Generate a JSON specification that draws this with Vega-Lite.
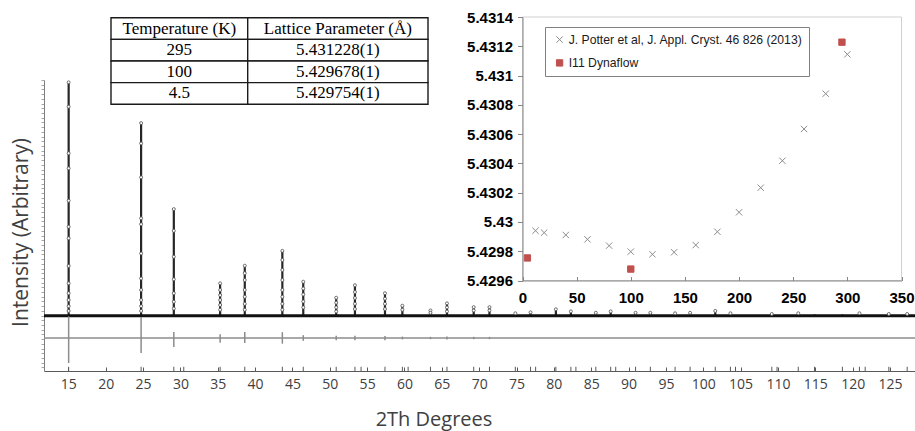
{
  "$schema": "https://vega.github.io/schema/vega-lite/v6.json",
  "width": 871,
  "height": 371,
  "autosize": "none",
  "padding": {"left": 44, "top": 0, "right": 0, "bottom": 60},
  "background": "white",
  "config": {"view": {"stroke": null}},
  "datasets": {
    "peaks": [
      {"tt": 15.04, "h": 990}, {"tt": 24.74, "h": 817}, {"tt": 29.12, "h": 452}, {"tt": 35.32, "h": 137},
      {"tt": 38.62, "h": 212}, {"tt": 43.65, "h": 275}, {"tt": 46.45, "h": 144}, {"tt": 50.86, "h": 76},
      {"tt": 53.37, "h": 129}, {"tt": 57.39, "h": 95}, {"tt": 59.72, "h": 42}, {"tt": 63.48, "h": 22},
      {"tt": 65.69, "h": 52}, {"tt": 69.27, "h": 36}, {"tt": 71.38, "h": 36}, {"tt": 74.84, "h": 10},
      {"tt": 76.88, "h": 14}, {"tt": 80.27, "h": 27}, {"tt": 82.28, "h": 18}, {"tt": 85.62, "h": 12},
      {"tt": 87.61, "h": 18}, {"tt": 90.94, "h": 12}, {"tt": 92.92, "h": 12}, {"tt": 96.23, "h": 10},
      {"tt": 98.24, "h": 12}, {"tt": 101.61, "h": 20}, {"tt": 103.64, "h": 10}, {"tt": 109.18, "h": 7},
      {"tt": 112.72, "h": 10}, {"tt": 114.9, "h": 5}, {"tt": 118.63, "h": 5}, {"tt": 120.91, "h": 10},
      {"tt": 124.85, "h": 7}, {"tt": 127.3, "h": 7}
    ],
    "obs": [
      {"tt": 15.04, "I": 990}, {"tt": 15.04, "I": 887}, {"tt": 15.04, "I": 689}, {"tt": 15.04, "I": 625},
      {"tt": 15.04, "I": 488}, {"tt": 15.04, "I": 377}, {"tt": 15.04, "I": 328}, {"tt": 15.04, "I": 211},
      {"tt": 15.04, "I": 137}, {"tt": 15.04, "I": 95}, {"tt": 15.04, "I": 66}, {"tt": 15.04, "I": 40}, {"tt": 15.04, "I": 20},
      {"tt": 24.74, "I": 817}, {"tt": 24.74, "I": 731}, {"tt": 24.74, "I": 587}, {"tt": 24.74, "I": 413},
      {"tt": 24.74, "I": 388}, {"tt": 24.74, "I": 264}, {"tt": 24.74, "I": 158}, {"tt": 24.74, "I": 109},
      {"tt": 24.74, "I": 66}, {"tt": 24.74, "I": 40}, {"tt": 24.74, "I": 20},
      {"tt": 29.12, "I": 452}, {"tt": 29.12, "I": 360}, {"tt": 29.12, "I": 250}, {"tt": 29.12, "I": 154},
      {"tt": 29.12, "I": 95}, {"tt": 29.12, "I": 59}, {"tt": 29.12, "I": 30},
      {"tt": 35.32, "I": 137}, {"tt": 35.32, "I": 109}, {"tt": 35.32, "I": 87}, {"tt": 35.32, "I": 66}, {"tt": 35.32, "I": 45}, {"tt": 35.32, "I": 25},
      {"tt": 38.62, "I": 212}, {"tt": 38.62, "I": 180}, {"tt": 38.62, "I": 151}, {"tt": 38.62, "I": 109}, {"tt": 38.62, "I": 80}, {"tt": 38.62, "I": 50}, {"tt": 38.62, "I": 25},
      {"tt": 43.65, "I": 275}, {"tt": 43.65, "I": 236}, {"tt": 43.65, "I": 194}, {"tt": 43.65, "I": 151}, {"tt": 43.65, "I": 109}, {"tt": 43.65, "I": 80}, {"tt": 43.65, "I": 50}, {"tt": 43.65, "I": 25},
      {"tt": 46.45, "I": 144}, {"tt": 46.45, "I": 115}, {"tt": 46.45, "I": 90}, {"tt": 46.45, "I": 60}, {"tt": 46.45, "I": 35},
      {"tt": 50.86, "I": 76}, {"tt": 50.86, "I": 55}, {"tt": 50.86, "I": 35}, {"tt": 50.86, "I": 18},
      {"tt": 53.37, "I": 129}, {"tt": 53.37, "I": 100}, {"tt": 53.37, "I": 75}, {"tt": 53.37, "I": 50}, {"tt": 53.37, "I": 28},
      {"tt": 57.39, "I": 95}, {"tt": 57.39, "I": 72}, {"tt": 57.39, "I": 50}, {"tt": 57.39, "I": 28},
      {"tt": 59.72, "I": 42}, {"tt": 59.72, "I": 25}, {"tt": 63.48, "I": 22}, {"tt": 63.48, "I": 12},
      {"tt": 65.69, "I": 52}, {"tt": 65.69, "I": 35}, {"tt": 65.69, "I": 18},
      {"tt": 69.27, "I": 36}, {"tt": 69.27, "I": 22}, {"tt": 71.38, "I": 36}, {"tt": 71.38, "I": 22},
      {"tt": 74.84, "I": 10}, {"tt": 76.88, "I": 14}, {"tt": 80.27, "I": 27}, {"tt": 82.28, "I": 18},
      {"tt": 85.62, "I": 12}, {"tt": 87.61, "I": 18}, {"tt": 90.94, "I": 12}, {"tt": 92.92, "I": 12},
      {"tt": 96.23, "I": 10}, {"tt": 98.24, "I": 12}, {"tt": 101.61, "I": 20}, {"tt": 103.64, "I": 10},
      {"tt": 109.18, "I": 7}, {"tt": 112.72, "I": 10}, {"tt": 120.91, "I": 10}, {"tt": 124.85, "I": 7}, {"tt": 127.3, "I": 7}
    ],
    "diffspikes": [
      {"tt": 15.04, "lo": -201, "hi": -3}, {"tt": 24.74, "lo": -159, "hi": -6}, {"tt": 29.12, "lo": -133, "hi": -70},
      {"tt": 35.32, "lo": -115, "hi": -79}, {"tt": 38.62, "lo": -116, "hi": -70}, {"tt": 43.65, "lo": -119, "hi": -70},
      {"tt": 46.45, "lo": -107, "hi": -83}, {"tt": 50.86, "lo": -105, "hi": -85}, {"tt": 53.37, "lo": -105, "hi": -85},
      {"tt": 57.39, "lo": -104, "hi": -86}, {"tt": 59.72, "lo": -101, "hi": -89}, {"tt": 63.48, "lo": -100, "hi": -90},
      {"tt": 65.69, "lo": -101, "hi": -89}, {"tt": 69.27, "lo": -100, "hi": -90}, {"tt": 71.38, "lo": -100, "hi": -90}
    ],
    "bragg": [
      {"tt": 15.04}, {"tt": 24.74}, {"tt": 29.12}, {"tt": 30.45}, {"tt": 35.32}, {"tt": 38.62}, {"tt": 43.65},
      {"tt": 46.45}, {"tt": 50.86}, {"tt": 53.37}, {"tt": 54.19}, {"tt": 57.39}, {"tt": 59.72}, {"tt": 60.49},
      {"tt": 63.48}, {"tt": 65.69}, {"tt": 69.27}, {"tt": 71.38}, {"tt": 74.84}, {"tt": 76.88}, {"tt": 77.56},
      {"tt": 80.27}, {"tt": 82.28}, {"tt": 82.95}, {"tt": 85.62}, {"tt": 87.61}, {"tt": 88.28}, {"tt": 90.94},
      {"tt": 92.92}, {"tt": 96.23}, {"tt": 98.24}, {"tt": 101.61}, {"tt": 103.64}, {"tt": 104.32}, {"tt": 109.18},
      {"tt": 109.88}, {"tt": 112.72}, {"tt": 114.9}, {"tt": 118.63}, {"tt": 120.91}, {"tt": 121.68}, {"tt": 124.85}, {"tt": 127.3}
    ],
    "lattice": [
      {"series": "J. Potter et al, J. Appl. Cryst. 46 826 (2013)", "T": 12, "a": 5.42994},
      {"series": "J. Potter et al, J. Appl. Cryst. 46 826 (2013)", "T": 20, "a": 5.429927},
      {"series": "J. Potter et al, J. Appl. Cryst. 46 826 (2013)", "T": 40, "a": 5.429911},
      {"series": "J. Potter et al, J. Appl. Cryst. 46 826 (2013)", "T": 60, "a": 5.429881},
      {"series": "J. Potter et al, J. Appl. Cryst. 46 826 (2013)", "T": 80, "a": 5.429838},
      {"series": "J. Potter et al, J. Appl. Cryst. 46 826 (2013)", "T": 100, "a": 5.429797},
      {"series": "J. Potter et al, J. Appl. Cryst. 46 826 (2013)", "T": 120, "a": 5.429779},
      {"series": "J. Potter et al, J. Appl. Cryst. 46 826 (2013)", "T": 140, "a": 5.429793},
      {"series": "J. Potter et al, J. Appl. Cryst. 46 826 (2013)", "T": 160, "a": 5.429842},
      {"series": "J. Potter et al, J. Appl. Cryst. 46 826 (2013)", "T": 180, "a": 5.429933},
      {"series": "J. Potter et al, J. Appl. Cryst. 46 826 (2013)", "T": 200, "a": 5.430066},
      {"series": "J. Potter et al, J. Appl. Cryst. 46 826 (2013)", "T": 220, "a": 5.430234},
      {"series": "J. Potter et al, J. Appl. Cryst. 46 826 (2013)", "T": 240, "a": 5.430418},
      {"series": "J. Potter et al, J. Appl. Cryst. 46 826 (2013)", "T": 260, "a": 5.430635},
      {"series": "J. Potter et al, J. Appl. Cryst. 46 826 (2013)", "T": 280, "a": 5.430876},
      {"series": "J. Potter et al, J. Appl. Cryst. 46 826 (2013)", "T": 300, "a": 5.431145},
      {"series": "I11 Dynaflow", "T": 4.5, "a": 5.429754},
      {"series": "I11 Dynaflow", "T": 100, "a": 5.429678},
      {"series": "I11 Dynaflow", "T": 295, "a": 5.431228}
    ],
    "table": [
      {"col": "T", "row": 0, "text": "Temperature (K)"},
      {"col": "P", "row": 0, "text": "Lattice Parameter (Å)"},
      {"col": "T", "row": 1, "text": "295"},
      {"col": "P", "row": 1, "text": "5.431228(1)"},
      {"col": "T", "row": 2, "text": "100"},
      {"col": "P", "row": 2, "text": "5.429678(1)"},
      {"col": "T", "row": 3, "text": "4.5"},
      {"col": "P", "row": 3, "text": "5.429754(1)"}
    ]
  },
  "resolve": {
    "scale": {"x": "independent", "y": "independent"},
    "axis": {"x": "independent", "y": "independent"}
  },
  "layer": [
    {
      "data": {"name": "peaks"},
      "mark": {"type": "rule", "color": "#262626", "strokeWidth": 2.2},
      "encoding": {
        "x": {
          "field": "tt", "type": "quantitative",
          "scale": {"domain": [11.74, 128.35], "nice": false, "zero": false},
          "axis": {
            "orient": "bottom", "values": [15, 20, 25, 30, 35, 40, 45, 50, 55, 60, 65, 70, 75, 80, 85, 90, 95, 100, 105, 110, 115, 120, 125],
            "title": "2Th Degrees", "titleFont": "Open Sans", "titleFontSize": 20, "titleFontWeight": "normal",
            "titleColor": "#404040", "titleX": 389.5, "titleY": 54, "titleAlign": "center", "titleBaseline": "alphabetic",
            "labelFont": "Open Sans", "labelFontSize": 14, "labelColor": "#404040", "labelPadding": 10,
            "tickSize": -4, "tickColor": "#595959", "domainColor": "#595959", "grid": false,
            "labelFlush": false, "labelOverlap": false
          }
        },
        "y": {
          "field": "h", "type": "quantitative",
          "scale": {"domain": [-235, 1000], "range": [371, 80], "nice": false, "zero": false},
          "axis": {
            "orient": "left", "tickCount": 61, "labels": false, "tickSize": 3, "tickColor": "#a6a6a6",
            "domainColor": "#7f7f7f", "grid": false,
            "title": "Intensity (Arbitrary)", "titleFont": "Open Sans", "titleFontSize": 21, "titleFontWeight": "normal",
            "titleColor": "#404040", "titleX": -17, "titleY": 232, "titleAngle": 270, "titleAlign": "center", "titleBaseline": "alphabetic"
          }
        },
        "y2": {"datum": 0}
      }
    },
    {
      "data": {"values": [{"curve": "calculated", "I": 0}]},
      "mark": {"type": "rule", "color": "#111111", "strokeWidth": 3},
      "encoding": {"y": {"field": "I", "type": "quantitative", "scale": {"domain": [-235, 1000], "range": [371, 80], "nice": false, "zero": false}, "axis": null}}
    },
    {
      "data": {"values": [{"curve": "difference", "I": -95}]},
      "mark": {"type": "rule", "color": "#8c8c8c", "strokeWidth": 1.5},
      "encoding": {"y": {"field": "I", "type": "quantitative", "scale": {"domain": [-235, 1000], "range": [371, 80], "nice": false, "zero": false}, "axis": null}}
    },
    {
      "data": {"name": "diffspikes"},
      "mark": {"type": "rule", "color": "#8c8c8c", "strokeWidth": 1.5},
      "encoding": {
        "x": {"field": "tt", "type": "quantitative", "scale": {"domain": [11.74, 128.35], "nice": false, "zero": false}, "axis": null},
        "y": {"field": "lo", "type": "quantitative", "scale": {"domain": [-235, 1000], "range": [371, 80], "nice": false, "zero": false}, "axis": null},
        "y2": {"field": "hi"}
      }
    },
    {
      "data": {"name": "bragg"},
      "mark": {"type": "rule", "color": "#595959", "strokeWidth": 1},
      "encoding": {
        "x": {"field": "tt", "type": "quantitative", "scale": {"domain": [11.74, 128.35], "nice": false, "zero": false}, "axis": null},
        "y": {"datum": -235, "type": "quantitative", "scale": {"domain": [-235, 1000], "range": [371, 80], "nice": false, "zero": false}, "axis": null},
        "y2": {"datum": -217}
      }
    },
    {
      "data": {"name": "obs"},
      "mark": {"type": "point", "shape": "circle", "fill": "white", "stroke": "#505050", "strokeWidth": 0.8, "size": 9, "opacity": 1},
      "encoding": {
        "x": {"field": "tt", "type": "quantitative", "scale": {"domain": [11.74, 128.35], "nice": false, "zero": false}, "axis": null},
        "y": {"field": "I", "type": "quantitative", "scale": {"domain": [-235, 1000], "range": [371, 80], "nice": false, "zero": false}, "axis": null}
      }
    },
    {
      "data": {"values": [{"T0": 0, "T1": 350, "a0": 5.4296, "a1": 5.4314}]},
      "mark": {"type": "rect", "fill": "transparent", "stroke": "#d0d0d0", "strokeWidth": 1},
      "encoding": {
        "x": {
          "field": "T0", "type": "quantitative",
          "scale": {"domain": [0, 350], "range": [478.5, 857.5], "nice": false, "zero": false},
          "axis": {
            "orient": "bottom", "offset": -90.5, "values": [0, 50, 100, 150, 200, 250, 300, 350], "title": null,
            "labelFont": "Liberation Sans", "labelFontSize": 15, "labelFontWeight": "bold", "labelColor": "#000000",
            "labelPadding": 14, "tickSize": -4, "tickColor": "#868686", "domainColor": "#868686",
            "grid": false, "labelFlush": false, "labelOverlap": false, "zindex": 1
          }
        },
        "x2": {"field": "T1"},
        "y": {
          "field": "a0", "type": "quantitative",
          "scale": {"domain": [5.4296, 5.4314], "range": [280.5, 17], "nice": false, "zero": false},
          "axis": {
            "orient": "left", "offset": -478.5,
            "values": [5.4296, 5.4298, 5.43, 5.4302, 5.4304, 5.4306, 5.4308, 5.431, 5.4312, 5.4314],
            "format": ".4~f", "title": null,
            "labelFont": "Liberation Sans", "labelFontSize": 15, "labelFontWeight": "bold", "labelColor": "#000000",
            "labelPadding": 5, "tickSize": 5, "tickColor": "#868686", "domainColor": "#868686",
            "grid": false, "labelFlush": false, "labelOverlap": false, "zindex": 1
          }
        },
        "y2": {"field": "a1"}
      }
    },
    {
      "data": {"name": "lattice"},
      "mark": {"type": "point", "filled": true, "strokeWidth": 1, "size": 40, "opacity": 1},
      "encoding": {
        "x": {"field": "T", "type": "quantitative", "scale": {"domain": [0, 350], "range": [478.5, 857.5], "nice": false, "zero": false}, "axis": null},
        "y": {"field": "a", "type": "quantitative", "scale": {"domain": [5.4296, 5.4314], "range": [280.5, 17], "nice": false, "zero": false}, "axis": null},
        "color": {
          "field": "series", "type": "nominal",
          "scale": {"domain": ["J. Potter et al, J. Appl. Cryst. 46 826 (2013)", "I11 Dynaflow"], "range": ["#8c8c8c", "#C0504D"]},
          "legend": {
            "title": null, "orient": "none", "legendX": 501, "legendY": 27, "strokeColor": "#808080", "fillColor": "white",
            "padding": 6.5, "labelFont": "Liberation Sans", "labelFontSize": 12.2, "labelColor": "#1a1a1a",
            "labelLimit": 400, "symbolSize": 40, "symbolStrokeWidth": 1, "rowPadding": 10.3, "labelOffset": 3, "symbolOffset": 2
          }
        },
        "stroke": {
          "field": "series", "type": "nominal",
          "scale": {"domain": ["J. Potter et al, J. Appl. Cryst. 46 826 (2013)", "I11 Dynaflow"], "range": ["#8c8c8c", "#C0504D"]},
          "legend": {
            "title": null, "orient": "none", "legendX": 501, "legendY": 27, "strokeColor": "#808080", "fillColor": "white",
            "padding": 6.5, "labelFont": "Liberation Sans", "labelFontSize": 12.2, "labelColor": "#1a1a1a",
            "labelLimit": 400, "symbolSize": 40, "symbolStrokeWidth": 1, "rowPadding": 10.3, "labelOffset": 3, "symbolOffset": 2
          }
        },
        "shape": {
          "field": "series", "type": "nominal",
          "scale": {"domain": ["J. Potter et al, J. Appl. Cryst. 46 826 (2013)", "I11 Dynaflow"], "range": ["M-1,-1L1,1M-1,1L1,-1", "square"]},
          "legend": {
            "title": null, "orient": "none", "legendX": 501, "legendY": 27, "strokeColor": "#808080", "fillColor": "white",
            "padding": 6.5, "labelFont": "Liberation Sans", "labelFontSize": 12.2, "labelColor": "#1a1a1a",
            "labelLimit": 400, "symbolSize": 40, "symbolStrokeWidth": 1, "rowPadding": 10.3, "labelOffset": 3, "symbolOffset": 2
          }
        }
      }
    },
    {
      "data": {"name": "table"},
      "transform": [{"filter": "datum.col == 'T'"}],
      "mark": {"type": "rect", "fill": "white", "stroke": "#1a1a1a", "strokeWidth": 1.4},
      "encoding": {
        "x": {"field": "col", "type": "nominal", "scale": {"type": "band", "domain": ["T"], "range": [67, 203.7], "paddingInner": 0, "paddingOuter": 0}, "axis": null},
        "y": {"field": "row", "type": "ordinal", "scale": {"type": "band", "domain": [0, 1, 2, 3], "range": [17.7, 104.3], "paddingInner": 0, "paddingOuter": 0}, "axis": null}
      }
    },
    {
      "data": {"name": "table"},
      "transform": [{"filter": "datum.col == 'T'"}],
      "mark": {"type": "text", "font": "Liberation Serif", "fontSize": 17, "color": "#000000", "baseline": "middle", "align": "center"},
      "encoding": {
        "x": {"field": "col", "type": "nominal", "scale": {"type": "band", "domain": ["T"], "range": [67, 203.7], "paddingInner": 0, "paddingOuter": 0}, "axis": null},
        "y": {"field": "row", "type": "ordinal", "scale": {"type": "band", "domain": [0, 1, 2, 3], "range": [17.7, 104.3], "paddingInner": 0, "paddingOuter": 0}, "axis": null},
        "text": {"field": "text", "type": "nominal"}
      }
    },
    {
      "data": {"name": "table"},
      "transform": [{"filter": "datum.col == 'P'"}],
      "mark": {"type": "rect", "fill": "white", "stroke": "#1a1a1a", "strokeWidth": 1.4},
      "encoding": {
        "x": {"field": "col", "type": "nominal", "scale": {"type": "band", "domain": ["P"], "range": [203.7, 384], "paddingInner": 0, "paddingOuter": 0}, "axis": null},
        "y": {"field": "row", "type": "ordinal", "scale": {"type": "band", "domain": [0, 1, 2, 3], "range": [17.7, 104.3], "paddingInner": 0, "paddingOuter": 0}, "axis": null}
      }
    },
    {
      "data": {"name": "table"},
      "transform": [{"filter": "datum.col == 'P'"}],
      "mark": {"type": "text", "font": "Liberation Serif", "fontSize": 17, "color": "#000000", "baseline": "middle", "align": "center"},
      "encoding": {
        "x": {"field": "col", "type": "nominal", "scale": {"type": "band", "domain": ["P"], "range": [203.7, 384], "paddingInner": 0, "paddingOuter": 0}, "axis": null},
        "y": {"field": "row", "type": "ordinal", "scale": {"type": "band", "domain": [0, 1, 2, 3], "range": [17.7, 104.3], "paddingInner": 0, "paddingOuter": 0}, "axis": null},
        "text": {"field": "text", "type": "nominal"}
      }
    }
  ]
}
